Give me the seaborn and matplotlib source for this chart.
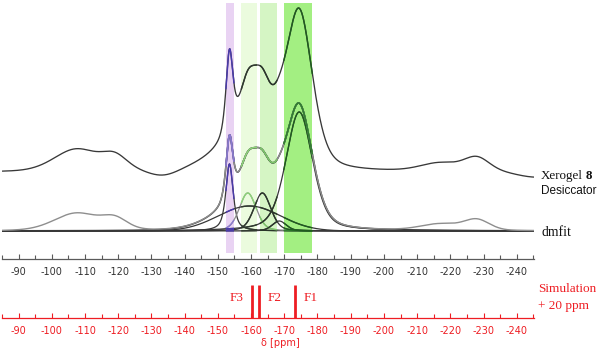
import numpy as np
import matplotlib
matplotlib.use("Agg")
import matplotlib.pyplot as plt
import seaborn as sns

# ---------------------------------------------------------------------------
# 19F MAS NMR of Xerogel 8 (desiccator) with its dmfit decomposition
# ---------------------------------------------------------------------------

# dmfit components: centre (ppm), height, FWHM (ppm), Lorentzian fraction
comp_center = [-153.5, -159.0, -163.4, -168.5, -174.5, -159.5]
comp_height = [67, 38, 38, 10, 119, 25]
comp_fwhm = [2.6, 6.0, 6.0, 5.0, 9.5, 22.0]
comp_lorentz = [0.7, 0.3, 0.3, 0.3, 0.4, 0.0]
comp_tone = ["dark", "light", "dark", "dark", "dark", "dark"]

# spinning sidebands of the measured spectrum
sb_center = [-107.5, -119.0, -217.0, -228.0]
sb_height = [17.5, 10.5, 6.5, 10.5]
sb_fwhm = [16.0, 9.0, 14.0, 9.0]
sb_lorentz = [0.2, 0.2, 0.2, 0.2]

# baseline roll of the desiccator trace
roll_center = [-133.5, -246.0]
roll_height = [-4.5, -4.5]
roll_fwhm = [10.0, 14.0]

# shaded chemical-shift regions (ppm)
band_from = [-152.4, -157.0, -162.6, -169.8]
band_to = [-154.9, -161.8, -167.9, -178.5]
band_fill = ["#e9d3f3", "#ebfbde", "#d5f5c4", "#a3ef82"]
band_ink_dark = ["#4a3aae", "#303a30", "#2a362a", "#1f5c1f"]
band_ink_light = ["#8a78d0", "#8cd478", "#7bc867", "#2f7f2f"]

# simulated F sites, shifted by +20 ppm
sim_shift = [-160.3, -162.4, -173.2]
sim_intensity = [1.0, 1.0, 1.0]
sim_label = ["F3", "F2", "F1"]
sim_label_pos = [-155.7, -167.2, -178.0]

tick_values = list(range(-90, -241, -10))
x_range = (-85.1, -245.2)

# vertical placement of the two traces
top_offset = 59.0
top_scale = 1.28

RED = "#ee1d23"
DARK = "#383838"
LIGHT = "#8e8e8e"


def pseudo_voigt(x, c, h, w, eta):
    d = (x - c) / w
    return h * (eta / (1 + 4 * d ** 2) + (1 - eta) * np.exp(-4 * np.log(2) * d ** 2))


ppm = np.linspace(x_range[0], x_range[1], 3400)

components = [pseudo_voigt(ppm, c, h, w, e) for c, h, w, e in
              zip(comp_center, comp_height, comp_fwhm, comp_lorentz)]
fit_sum = np.sum(components, axis=0)
sidebands = np.sum([pseudo_voigt(ppm, c, h, w, e) for c, h, w, e in
                    zip(sb_center, sb_height, sb_fwhm, sb_lorentz)], axis=0)
measured = fit_sum + sidebands
roll = np.sum([pseudo_voigt(ppm, c, h, w, 0.0) for c, h, w in
               zip(roll_center, roll_height, roll_fwhm)], axis=0)
desiccator = top_offset + top_scale * (measured + roll)

sns.set_theme(style="white")
plt.rcParams["font.family"] = ["DejaVu Sans"]

fig = plt.figure(figsize=(6.0, 3.48), dpi=100)
ax = fig.add_axes([2 / 600, 89 / 348, 532 / 600, 259 / 348])
ax_sim = fig.add_axes([2 / 600, 30 / 348, 532 / 600, 38 / 348])

# shaded regions
for lo, hi, col in zip(band_from, band_to, band_fill):
    ax.axvspan(hi, lo, ymin=0.023, ymax=0.988, color=col, lw=0, zorder=0)


def draw_trace(y, tone, lw, z):
    base = DARK if tone == "dark" else LIGHT
    sns.lineplot(x=ppm, y=y, ax=ax, color=base, linewidth=lw,
                 estimator=None, sort=False, zorder=z)
    inks = band_ink_dark if tone == "dark" else band_ink_light
    for lo, hi, ink in zip(band_from, band_to, inks):
        inside = (ppm <= lo) & (ppm >= hi)
        ax.plot(ppm, np.where(inside, y, np.nan), color=ink, lw=lw + 0.1,
                zorder=z + 0.1, solid_capstyle="butt")


for comp, tone in zip(components, comp_tone):
    draw_trace(comp, tone, 0.9, 2)
draw_trace(fit_sum, "dark", 1.1, 3)
draw_trace(measured, "light", 1.0, 4)
draw_trace(desiccator, "dark", 0.95, 4)

ax.set_xlim(*x_range)
ax.set_ylim(-28, 231)
ax.set_xticks(tick_values)
ax.set_xticklabels([str(t) for t in tick_values])
ax.set_xticks(np.arange(-85, -246, -5), minor=True)
ax.set_yticks([])
ax.set_xlabel("")
ax.set_ylabel("")
sns.despine(ax=ax, left=True, top=True, right=True)
ax.spines["bottom"].set_color("#5a5a5a")
ax.spines["bottom"].set_linewidth(0.9)
ax.tick_params(axis="x", which="both", direction="in", bottom=True,
               colors="#5a5a5a", labelcolor="#333333", width=0.8)
ax.tick_params(axis="x", which="major", length=3.5, pad=6, labelsize=7)
ax.tick_params(axis="x", which="minor", length=3)
ax.patch.set_alpha(0)

# simulated stick spectrum
ax_sim.vlines(sim_shift, 0, sim_intensity, color=RED, lw=2.0)
for pos, lab in zip(sim_label_pos, sim_label):
    ax_sim.text(pos, 0.6, lab, color=RED, ha="center", va="center",
                family="Liberation Serif", fontsize=9.5)
ax_sim.set_xlim(*x_range)
ax_sim.set_ylim(0, 1.15)
ax_sim.set_xticks(tick_values)
ax_sim.set_xticklabels([str(t) for t in tick_values])
ax_sim.set_xticks(np.arange(-85, -246, -5), minor=True)
ax_sim.set_yticks([])
sns.despine(ax=ax_sim, left=True, top=True, right=True)
ax_sim.spines["bottom"].set_color(RED)
ax_sim.spines["bottom"].set_linewidth(0.9)
ax_sim.tick_params(axis="x", which="both", direction="in", bottom=True,
                   colors=RED, width=0.8)
ax_sim.tick_params(axis="x", which="major", length=3.5, pad=6, labelsize=7)
ax_sim.tick_params(axis="x", which="minor", length=3)
ax_sim.patch.set_alpha(0)


# trace labels
def fx(px):
    return px / 600


def fy(py):
    return 1 - py / 348


fig.text(fx(541), fy(176), "Xerogel", family="Liberation Serif", fontsize=9.4,
         color="#111111", va="center", ha="left")
fig.text(fx(586), fy(176), "8", family="Liberation Serif", fontsize=9.4,
         fontweight="bold", color="#111111", va="center", ha="left")
fig.text(fx(541), fy(191), "Desiccator", family="Liberation Sans", fontsize=8.5,
         color="#111111", va="center", ha="left")
fig.text(fx(541), fy(232), "dmfit", family="Liberation Serif", fontsize=9.8,
         color="#111111", va="center", ha="left")
fig.text(fx(538), fy(289), "Simulation", family="Liberation Serif", fontsize=9.5,
         color=RED, va="center", ha="left")
fig.text(fx(538), fy(306), "+ 20 ppm", family="Liberation Serif", fontsize=9.5,
         color=RED, va="center", ha="left")
fig.text(fx(280), fy(343), "δ [ppm]", fontsize=7, color=RED,
         va="center", ha="center")

fig.savefig("out.png", dpi=100, facecolor="white")
